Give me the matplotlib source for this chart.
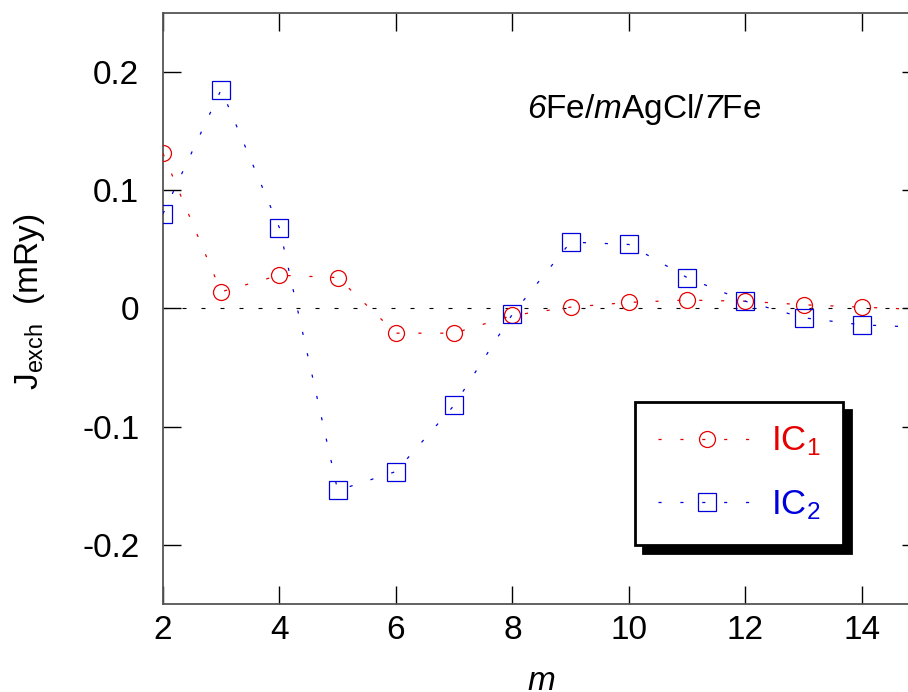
import matplotlib
matplotlib.use("Agg")
import matplotlib.pyplot as plt
from matplotlib.ticker import FuncFormatter

plt.rcParams['font.family'] = ['Liberation Sans', 'DejaVu Sans']
plt.rcParams['mathtext.fontset'] = 'custom'
plt.rcParams['mathtext.rm'] = 'Liberation Sans'
plt.rcParams['mathtext.it'] = 'Liberation Sans:italic'
plt.rcParams['mathtext.sf'] = 'Liberation Sans:italic'
plt.rcParams['mathtext.default'] = 'regular'

# Данные (m, J_exch в mRy)
m_vals = [2, 3, 4, 5, 6, 7, 8, 9, 10, 11, 12, 13, 14, 15]
ic1 = [0.131, 0.014, 0.028, 0.026, -0.021, -0.021, -0.006, 0.001, 0.005, 0.007, 0.006, 0.003, 0.001, -0.001]
ic2 = [0.080, 0.185, 0.068, -0.154, -0.138, -0.082, -0.005, 0.056, 0.054, 0.026, 0.006, -0.008, -0.014, -0.016]

red = '#e60000'
blue = '#0000dd'

fig = plt.figure(figsize=(9.08, 6.92), dpi=100)
ax = fig.add_axes([0.1795, 0.1272, 0.8337, 0.8545])

ax.axhline(0, color='black', lw=0.8, linestyle=(0, (3.6, 13.5)), zorder=1)

ax.plot(m_vals, ic1, color=red, lw=0.9, linestyle=(0, (2.5, 15)),
        marker='o', ms=11.5, mfc='none', mec=red, mew=0.9, label='IC$_1$', zorder=3)
ax.plot(m_vals, ic2, color=blue, lw=0.9, linestyle=(0, (2.5, 15)),
        marker='s', ms=13, mfc='none', mec=blue, mew=0.9, label='IC$_2$', zorder=3)

ax.set_xlim(2, 15)
ax.set_ylim(-0.25, 0.25)
ax.set_xticks([2, 4, 6, 8, 10, 12, 14])
ax.set_yticks([-0.2, -0.1, 0, 0.1, 0.2])
ax.yaxis.set_major_formatter(FuncFormatter(lambda v, p: '0' if abs(v) < 1e-9 else ('%.1f' % v)))

for s in ax.spines.values():
    s.set_color('#555555')
    s.set_linewidth(1.3)

ax.tick_params(axis='both', direction='in', length=13, width=1.0, color='black',
               top=True, right=True, labelsize=24)
ax.tick_params(axis='y', pad=17)
ax.tick_params(axis='x', pad=8)

ax.set_xlabel('$\\mathsf{m}$', fontsize=24)
ax.xaxis.set_label_coords(0.5, -0.105)
ax.set_ylabel('J$_{exch}$  (mRy)', fontsize=24)
ax.yaxis.set_label_coords(-0.153, 0.512)

ax.text(8.25, 0.161, '$\\mathsf{6}$Fe/$\\mathsf{m}$AgCl/$\\mathsf{7}$Fe',
        fontsize=24, ha='left', va='baseline')

leg = ax.legend(loc='lower left', bbox_to_anchor=(0.6235, 0.0998), borderaxespad=0,
                fontsize=25, handlelength=2.85, handletextpad=0.4, labelspacing=0.86,
                borderpad=0.66, numpoints=1, fancybox=False, framealpha=1,
                edgecolor='black', labelcolor='linecolor',
                shadow={'ox': 6, 'oy': -6, 'color': 'black', 'alpha': 1})
leg.get_frame().set_linewidth(2)

fig.savefig('out.png', dpi=100)
